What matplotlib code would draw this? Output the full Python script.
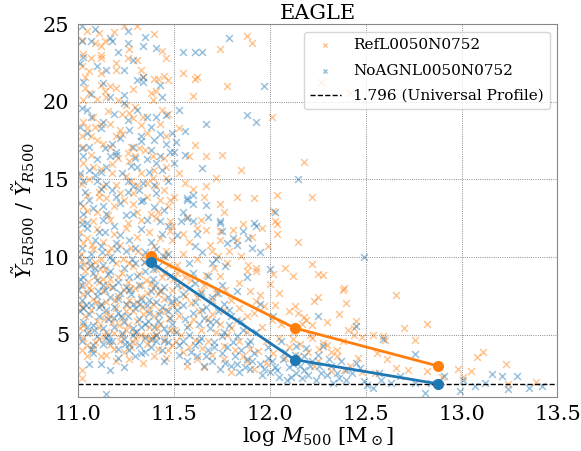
import numpy as np
import matplotlib
matplotlib.use("Agg")
import matplotlib.pyplot as plt

# points (log M500, Y5R500/YR500)
ref_pts = [
    # high ratio, low mass
    (11.05, 24.6), (11.11, 24.46), (11.19, 24.5), (11.24, 24.9), (11.31, 24.9), (11.02, 24.0), (11.09, 23.8),
    (11.12, 23.6), (11.14, 23.9), (11.03, 23.1), (11.07, 22.8), (11.12, 22.8), (11.20, 22.5), (11.26, 22.8),
    (11.31, 22.7), (11.02, 22.3), (11.06, 22.0), (11.12, 21.85), (11.20, 22.06), (11.33, 22.06), (11.34, 21.6),
    (11.40, 21.5), (11.42, 21.5), (11.45, 21.7), (11.47, 21.4), (11.04, 20.9), (11.06, 20.55), (11.12, 21.1),
    (11.17, 21.0), (11.20, 20.9), (11.29, 20.8), (11.41, 20.7), (11.03, 20.1), (11.10, 20.2), (11.15, 20.3),
    (11.21, 20.1), (11.39, 20.1), (11.25, 19.8), (11.30, 19.7), (11.27, 19.3), (11.23, 19.2), (11.29, 18.95),
    (11.34, 19.05), (11.44, 19.5), (11.47, 19.2), (11.03, 18.7), (11.05, 18.3), (11.09, 18.4), (11.12, 18.6),
    (11.17, 18.6), (11.02, 17.8), (11.07, 17.8), (11.10, 17.55), (11.13, 17.3), (11.20, 17.8), (11.23, 17.9),
    (11.28, 17.1), (11.32, 17.0), (11.36, 18.0), (11.03, 17.1), (11.17, 17.1), (11.26, 16.7), (11.30, 16.5),
    (11.39, 16.5), (11.45, 16.4), (11.03, 16.05), (11.08, 15.8), (11.12, 15.7), (11.18, 15.4), (11.25, 15.2),
    (11.33, 15.4), (11.40, 15.6), (11.46, 15.8), (11.01, 15.2), (11.06, 15.0), (11.13, 14.55), (11.20, 14.65),
    (11.31, 14.65), (11.36, 14.75), (11.41, 14.55), (11.46, 15.1), (11.05, 14.0), (11.11, 13.9), (11.15, 13.8),
    (11.22, 14.1), (11.29, 14.1), (11.36, 13.9), (11.43, 13.7), (11.48, 13.7), (11.03, 13.3), (11.10, 12.9),
    (11.19, 13.3), (11.29, 13.4), (11.38, 12.8), (11.47, 13.3), (11.02, 12.4), (11.08, 12.3), (11.17, 12.4),
    (11.26, 12.2), (11.33, 12.4), (11.41, 12.5), (11.48, 12.3),
    (11.04, 21.6), (11.08, 19.0), (11.14, 20.7), (11.22, 18.2), (11.18, 16.0), (11.27, 16.2), (11.35, 16.9),
    (11.43, 18.6), (11.07, 16.6), (11.11, 14.2), (11.24, 13.7), (11.31, 12.9), (11.39, 15.1), (11.45, 14.3),
    (11.02, 14.7), (11.16, 12.7), (11.28, 14.9), (11.42, 12.9), (11.49, 11.1), (11.05, 13.0), (11.21, 16.4),
    (11.33, 18.5), (11.12, 23.0), (11.27, 23.4), (11.40, 24.4), (11.16, 19.4), (11.38, 20.6), (11.46, 17.8),
    # 11.5 - 12.1, upper
    (11.88, 24.25), (11.91, 23.8), (11.74, 23.4), (11.44, 23.3), (11.46, 22.8), (11.55, 21.85), (11.62, 21.6),
    (11.61, 21.45), (11.78, 21.0), (11.60, 20.4), (12.01, 19.0), (11.53, 18.3), (11.61, 17.2), (11.58, 16.5),
    (11.67, 16.5), (11.75, 16.6), (11.85, 15.6), (11.72, 15.1), (11.56, 14.75), (11.67, 14.6), (11.60, 14.4),
    (11.66, 13.9), (11.74, 13.4), (11.83, 13.9), (11.92, 13.8), (12.04, 14.0), (12.02, 13.0), (12.03, 12.3),
    (12.27, 21.3), (12.42, 20.56), (12.18, 16.1), (12.22, 13.84),
    (11.53, 15.4), (11.58, 11.0), (11.64, 12.4), (11.69, 10.8), (11.79, 10.4), (11.86, 12.1), (11.96, 11.9),
    # dense cloud 11.0 - 11.5
    (11.01, 11.6), (11.03, 10.9), (11.05, 11.2), (11.08, 10.5), (11.10, 11.8), (11.13, 11.0), (11.16, 10.3),
    (11.19, 11.5), (11.22, 10.8), (11.25, 11.9), (11.28, 10.6), (11.31, 11.3), (11.34, 10.1), (11.37, 11.6),
    (11.40, 10.7), (11.43, 11.2), (11.46, 10.4), (11.48, 11.7),
    (11.02, 9.8), (11.04, 9.1), (11.07, 9.5), (11.09, 8.8), (11.12, 9.9), (11.14, 9.2), (11.17, 8.6),
    (11.20, 9.6), (11.23, 9.0), (11.26, 8.4), (11.29, 9.4), (11.32, 8.9), (11.35, 9.7), (11.38, 8.3),
    (11.41, 9.2), (11.44, 8.7), (11.47, 9.5),
    (11.01, 8.2), (11.03, 7.6), (11.06, 8.0), (11.08, 7.3), (11.11, 8.4), (11.13, 7.8), (11.15, 7.1),
    (11.18, 8.1), (11.21, 7.5), (11.24, 7.9), (11.27, 7.2), (11.30, 8.0), (11.33, 7.4), (11.36, 7.7),
    (11.39, 7.0), (11.42, 7.6), (11.45, 7.3), (11.49, 7.9),
    (11.02, 6.8), (11.04, 6.2), (11.07, 6.6), (11.10, 5.9), (11.12, 6.9), (11.15, 6.4), (11.18, 5.8),
    (11.20, 6.7), (11.23, 6.1), (11.26, 5.6), (11.29, 6.5), (11.31, 5.9), (11.34, 6.3), (11.37, 5.5),
    (11.40, 6.2), (11.43, 5.7), (11.46, 6.6), (11.48, 5.3),
    (11.01, 5.4), (11.03, 4.8), (11.06, 5.2), (11.09, 4.5), (11.11, 5.5), (11.14, 4.9), (11.17, 4.3),
    (11.19, 5.1), (11.22, 4.6), (11.25, 5.3), (11.28, 4.2), (11.30, 4.8), (11.33, 5.0), (11.36, 4.4),
    (11.39, 4.9), (11.42, 4.1), (11.45, 4.7), (11.49, 4.3),
    (11.02, 4.0), (11.05, 3.6), (11.08, 4.1), (11.12, 3.6), (11.15, 3.7), (11.20, 3.3), (11.24, 3.9),
    (11.27, 3.4), (11.34, 3.2), (11.40, 3.6), (11.46, 3.5), (11.02, 2.7), (11.02, 2.2),
    (11.015, 10.2), (11.035, 9.5), (11.055, 8.4), (11.075, 10.8), (11.095, 7.1), (11.115, 9.2), (11.135, 6.0),
    (11.155, 8.2), (11.175, 10.6), (11.195, 7.2), (11.215, 5.6), (11.235, 9.9), (11.255, 6.9), (11.275, 8.0),
    (11.295, 5.2), (11.315, 10.4), (11.335, 6.8), (11.355, 8.5), (11.375, 4.7), (11.395, 9.9), (11.415, 5.4),
    (11.435, 7.9), (11.455, 10.0), (11.475, 6.1), (11.495, 8.6),
    (11.01, 7.0), (11.03, 5.6), (11.05, 4.3), (11.07, 7.9), (11.09, 9.7), (11.11, 4.7), (11.13, 8.6),
    (11.15, 5.2), (11.17, 6.2), (11.19, 4.1), (11.21, 8.7), (11.23, 5.0), (11.25, 6.5), (11.27, 9.6),
    (11.29, 4.5), (11.31, 7.1), (11.33, 8.2), (11.35, 4.9), (11.37, 6.6), (11.39, 8.0), (11.41, 5.0),
    (11.43, 6.5), (11.45, 9.0), (11.47, 4.0), (11.49, 6.9),
    # 11.5 - 12.1, lower
    (11.52, 8.97), (11.59, 8.54), (11.67, 8.86), (11.74, 8.75), (11.88, 9.07), (11.93, 9.07), (12.00, 8.28),
    (11.95, 7.57), (11.93, 7.14), (11.97, 6.82), (12.01, 5.96), (11.88, 6.18), (11.83, 5.96), (11.56, 7.47),
    (11.59, 7.04), (11.53, 6.18), (11.50, 5.32), (11.51, 4.57), (11.61, 4.67), (11.65, 4.14), (11.76, 4.25),
    (11.84, 4.57), (11.80, 2.57), (11.94, 3.93), (11.98, 4.57),
    (11.55, 10.2), (11.62, 9.9), (11.70, 10.4), (11.78, 9.6), (11.85, 10.1), (11.52, 9.5), (11.64, 7.8),
    (11.70, 7.2), (11.76, 6.6), (11.68, 6.0), (11.58, 5.6), (11.72, 5.2), (11.80, 5.4), (11.55, 3.9),
    (11.62, 3.4), (11.70, 3.7), (11.88, 3.3), (11.92, 2.8), (11.57, 3.0), (11.66, 2.9), (11.77, 7.9),
    (11.84, 8.3), (11.90, 7.8), (11.63, 6.5), (11.54, 8.1),
    (11.55, 11.5), (11.62, 11.86), (11.67, 11.76), (11.74, 11.65), (11.74, 11.1), (11.81, 11.76), (11.83, 11.1),
    (11.91, 11.3), (11.99, 10.7), (11.73, 10.1), (11.89, 9.5), (11.93, 9.3), (11.71, 9.3), (11.49, 12.0),
    (11.50, 13.9), (11.76, 12.9), (11.57, 12.6),
    (11.52, 7.0), (11.54, 5.0), (11.56, 8.7), (11.58, 4.2), (11.60, 6.0), (11.62, 7.4), (11.64, 5.3),
    (11.66, 8.2), (11.68, 4.6), (11.70, 6.3), (11.72, 7.7), (11.74, 5.7), (11.76, 3.4), (11.78, 5.0),
    (11.80, 7.2), (11.82, 4.0), (11.84, 6.7), (11.86, 3.6), (11.88, 5.2), (11.90, 4.1), (11.92, 6.4),
    (11.96, 5.5), (11.98, 3.2), (12.02, 3.8),
    # high mass end
    (12.04, 12.1), (12.04, 11.5), (12.02, 8.9), (12.05, 7.7), (12.08, 9.3), (12.10, 6.5), (12.03, 6.9),
    (12.15, 10.94), (12.22, 9.55), (12.25, 8.9), (12.28, 8.86), (12.12, 8.75), (12.39, 8.0), (12.38, 7.85),
    (12.40, 7.07), (12.66, 7.55), (12.23, 7.16), (12.25, 7.4), (12.13, 6.86), (12.15, 6.4), (12.18, 6.13),
    (12.19, 5.96), (12.17, 5.7), (12.21, 5.0), (12.22, 4.78), (12.28, 4.46), (12.30, 4.3), (12.35, 4.03),
    (12.41, 5.3), (12.44, 4.99), (12.48, 4.84), (12.54, 5.0), (12.59, 4.93), (12.60, 4.68), (12.70, 5.43),
    (12.76, 4.68), (12.82, 5.7), (12.72, 2.7), (12.35, 3.6), (12.46, 3.5), (12.56, 3.8), (12.61, 3.4),
    (12.66, 2.85), (12.39, 2.74), (12.32, 2.64), (12.23, 2.96), (12.98, 2.78), (13.05, 2.63), (13.08, 3.55),
    (13.11, 3.85), (13.23, 3.13), (13.01, 2.3), (13.24, 1.85), (13.39, 1.93), (12.90, 2.3), (12.82, 2.64),
    (12.05, 4.8), (12.10, 4.2), (12.15, 3.6), (12.20, 3.9), (12.25, 3.3), (12.12, 5.2), (12.30, 5.8),
    (12.36, 6.3), (12.45, 5.9), (12.42, 3.0), (12.48, 2.6), (12.55, 2.5), (12.44, 5.4),
    (12.06, 5.7), (12.08, 3.5), (12.12, 4.7), (12.16, 4.4), (12.22, 5.6), (12.26, 4.1), (12.32, 3.9),
    (12.38, 4.6),
]

noagn_pts = [
    # high ratio, low mass
    (11.02, 24.9), (11.09, 24.7), (11.17, 24.1), (11.26, 24.6), (11.35, 24.2), (11.02, 23.9), (11.07, 23.9),
    (11.18, 23.9), (11.26, 23.8), (11.34, 23.6), (11.41, 23.5), (11.01, 22.5), (11.10, 22.3), (11.15, 22.06),
    (11.24, 22.06), (11.34, 21.6), (11.03, 21.3), (11.07, 20.5), (11.17, 20.3), (11.24, 20.45), (11.31, 21.4),
    (11.34, 21.3), (11.43, 21.1), (11.02, 19.6), (11.05, 19.5), (11.13, 18.7), (11.19, 19.2), (11.26, 18.85),
    (11.31, 19.5), (11.36, 19.05), (11.41, 19.05), (11.46, 19.15), (11.01, 18.4), (11.05, 18.0), (11.12, 18.3),
    (11.27, 18.2), (11.33, 17.8), (11.38, 18.4), (11.43, 17.9), (11.02, 17.0), (11.06, 17.1), (11.18, 17.3),
    (11.20, 16.8), (11.29, 17.1), (11.33, 17.45), (11.40, 17.55), (11.46, 17.3), (11.03, 16.5), (11.10, 16.3),
    (11.17, 16.5), (11.20, 16.6), (11.28, 15.9), (11.36, 16.3), (11.43, 16.5), (11.48, 16.8), (11.01, 15.4),
    (11.06, 15.6), (11.12, 15.5), (11.15, 15.8), (11.23, 15.4), (11.31, 15.8), (11.41, 16.05), (11.03, 14.9),
    (11.10, 14.9), (11.15, 14.7), (11.26, 14.9), (11.29, 14.55), (11.34, 14.75), (11.40, 14.65), (11.47, 14.9),
    (11.04, 14.2), (11.12, 14.4), (11.20, 13.9), (11.26, 14.2), (11.34, 13.7), (11.41, 14.1), (11.01, 13.5),
    (11.06, 13.7), (11.13, 13.3), (11.22, 13.5), (11.33, 13.6), (11.45, 13.05), (11.03, 12.8), (11.08, 13.15),
    (11.15, 12.8), (11.29, 12.8), (11.36, 12.4), (11.43, 12.3), (11.05, 12.2), (11.13, 12.4),
    (11.03, 22.9), (11.13, 21.2), (11.21, 23.2), (11.29, 22.7), (11.07, 19.0), (11.22, 17.7), (11.14, 17.0),
    (11.30, 16.4), (11.37, 15.5), (11.44, 15.6), (11.09, 15.3), (11.18, 14.3), (11.25, 12.7), (11.32, 14.3),
    (11.40, 13.2), (11.47, 12.0), (11.02, 12.1), (11.11, 11.6), (11.19, 12.0), (11.38, 16.9), (11.49, 18.0),
    (11.24, 19.9), (11.44, 20.3),
    # 11.5 - 12.2, upper
    (11.79, 24.1), (11.55, 23.2), (11.61, 23.2), (11.65, 23.2), (11.97, 21.0), (11.88, 19.16), (11.93, 18.73),
    (11.67, 18.56), (11.53, 19.48), (11.56, 18.1), (11.51, 17.4), (11.50, 16.8), (11.50, 16.05), (11.65, 15.77),
    (12.15, 15.04), (11.57, 13.8), (11.60, 13.4), (11.67, 13.35), (11.74, 12.35), (11.92, 12.2), (12.03, 12.9),
    (11.57, 13.7), (11.60, 14.0), (11.55, 12.9), (11.57, 12.5), (11.54, 12.3), (11.60, 12.3), (11.74, 12.2),
    (11.75, 11.65), (11.81, 11.2), (11.83, 10.8), (11.89, 11.2), (11.93, 12.0), (11.91, 10.6), (11.61, 10.7),
    (11.52, 11.4), (11.72, 9.9), (11.77, 9.4),
    (11.56, 16.6), (11.62, 11.5), (11.68, 12.6), (11.78, 10.9), (11.86, 11.7), (11.95, 10.3), (12.00, 9.2),
    # dense cloud 11.0 - 11.5
    (11.00, 11.3), (11.02, 10.6), (11.05, 11.9), (11.07, 10.2), (11.09, 11.1), (11.12, 10.7), (11.14, 11.6),
    (11.17, 10.0), (11.20, 10.9), (11.22, 11.4), (11.25, 10.4), (11.27, 11.1), (11.30, 10.6), (11.33, 11.8),
    (11.35, 10.3), (11.38, 11.0), (11.41, 10.5), (11.44, 11.5), (11.47, 10.2),
    (11.01, 9.4), (11.03, 8.7), (11.06, 9.8), (11.08, 9.0), (11.10, 8.5), (11.13, 9.5), (11.16, 8.9),
    (11.18, 9.8), (11.21, 8.4), (11.24, 9.3), (11.27, 8.7), (11.30, 9.6), (11.32, 8.2), (11.35, 9.1),
    (11.39, 8.6), (11.42, 9.4), (11.45, 8.1), (11.48, 8.8),
    (11.00, 7.9), (11.02, 7.2), (11.05, 7.7), (11.07, 6.9), (11.10, 7.5), (11.12, 7.0), (11.14, 7.9),
    (11.17, 7.4), (11.19, 6.8), (11.22, 7.7), (11.25, 7.0), (11.28, 7.6), (11.30, 6.7), (11.33, 7.3),
    (11.36, 6.9), (11.38, 7.8), (11.41, 7.1), (11.44, 6.8), (11.47, 7.4),
    (11.01, 6.5), (11.03, 5.8), (11.06, 6.3), (11.08, 5.6), (11.11, 6.2), (11.13, 5.4), (11.16, 6.0),
    (11.19, 5.5), (11.21, 6.4), (11.24, 5.8), (11.26, 6.2), (11.29, 5.4), (11.32, 6.0), (11.35, 5.7),
    (11.37, 6.4), (11.40, 5.5), (11.42, 5.9), (11.45, 5.4), (11.48, 6.1),
    (11.00, 5.0), (11.02, 4.6), (11.05, 5.1), (11.08, 4.3), (11.10, 4.9), (11.13, 4.4), (11.16, 5.0),
    (11.18, 4.6), (11.21, 4.1), (11.24, 4.7), (11.27, 4.4), (11.29, 5.0), (11.32, 4.3), (11.35, 4.8),
    (11.38, 4.2), (11.41, 4.6), (11.44, 4.0), (11.47, 4.5),
    (11.06, 3.1), (11.12, 3.1), (11.17, 2.7), (11.24, 2.9), (11.30, 3.6), (11.45, 3.3), (11.08, 3.8),
    (11.21, 3.5), (11.33, 3.8), (11.15, 1.2),
    (11.005, 10.0), (11.025, 8.2), (11.045, 6.9), (11.065, 9.4), (11.085, 5.3), (11.105, 7.8), (11.125, 10.3),
    (11.145, 6.6), (11.165, 4.6), (11.185, 8.1), (11.205, 10.5), (11.225, 6.2), (11.245, 4.4), (11.265, 7.9),
    (11.285, 9.9), (11.305, 5.2), (11.325, 7.0), (11.345, 9.7), (11.365, 5.9), (11.385, 4.7), (11.405, 8.2),
    (11.425, 6.3), (11.445, 10.1), (11.465, 5.1), (11.485, 7.1),
    (11.01, 8.6), (11.03, 6.7), (11.05, 5.5), (11.07, 4.1), (11.09, 9.3), (11.11, 6.8), (11.13, 8.2),
    (11.15, 4.8), (11.17, 9.1), (11.19, 6.1), (11.21, 7.3), (11.23, 5.1), (11.25, 8.1), (11.27, 4.0),
    (11.29, 7.0), (11.31, 8.8), (11.33, 5.5), (11.35, 3.9), (11.37, 7.2), (11.39, 9.2), (11.41, 5.0),
    (11.43, 7.8), (11.45, 4.6), (11.47, 6.5), (11.49, 5.7),
    # 11.5 - 12.1, lower
    (11.52, 8.2), (11.55, 7.6), (11.58, 8.0), (11.61, 7.1), (11.64, 7.7), (11.67, 6.8), (11.70, 7.4),
    (11.73, 6.5), (11.76, 7.0), (11.80, 6.2), (11.52, 6.6), (11.56, 6.0), (11.60, 6.4), (11.63, 5.7),
    (11.66, 6.1), (11.69, 5.4), (11.72, 5.9), (11.76, 5.2), (11.79, 5.6), (11.83, 4.9), (11.86, 5.3),
    (11.90, 4.6), (11.51, 5.2), (11.55, 4.6), (11.58, 5.0), (11.61, 4.3), (11.64, 4.8), (11.68, 4.0),
    (11.71, 4.5), (11.75, 3.8), (11.78, 4.2), (11.82, 3.6), (11.85, 4.0), (11.88, 3.4), (11.92, 3.8),
    (11.95, 3.1), (11.99, 3.5), (12.03, 2.9), (11.53, 3.7), (11.57, 3.3), (11.62, 3.6), (11.66, 3.0),
    (11.70, 3.3), (11.74, 2.8), (11.80, 3.0), (11.84, 2.6), (11.90, 2.8), (11.96, 2.4), (12.00, 2.6),
    (12.05, 2.3), (11.60, 9.0), (11.68, 8.8), (11.75, 8.2), (11.83, 7.8), (11.70, 9.6), (11.88, 8.7),
    (11.65, 10.3), (11.58, 9.6), (11.95, 7.0), (12.02, 6.2),
    (11.51, 7.3), (11.53, 4.3), (11.55, 6.9), (11.57, 5.5), (11.59, 3.9), (11.61, 8.3), (11.63, 4.6),
    (11.65, 6.6), (11.67, 3.6), (11.69, 5.8), (11.71, 4.2), (11.73, 7.7), (11.75, 4.9), (11.77, 3.2),
    (11.79, 6.6), (11.81, 4.5), (11.83, 3.1), (11.85, 5.9), (11.87, 2.9), (11.89, 4.4), (11.91, 3.3),
    (11.93, 5.2), (11.97, 2.8), (11.99, 4.2), (12.01, 3.3), (12.04, 2.7),
    # high mass end
    (12.49, 10.0), (12.25, 6.22), (12.45, 5.53), (12.76, 3.75), (12.59, 4.74), (12.14, 4.25), (12.19, 4.13),
    (12.18, 3.6), (12.22, 3.28), (12.26, 2.96), (12.30, 2.42), (12.33, 1.88), (12.35, 2.53), (12.28, 4.25),
    (12.37, 3.28), (12.47, 2.85), (12.51, 1.78), (12.54, 1.56), (12.58, 2.1), (12.63, 1.88), (12.68, 2.31),
    (12.76, 1.88), (12.81, 1.24), (12.84, 1.88), (12.91, 2.31), (12.99, 1.35), (13.07, 1.67), (13.12, 1.88),
    (13.16, 2.49), (13.21, 2.31), (13.24, 1.5), (13.29, 2.31), (13.35, 1.56), (13.42, 1.71), (12.16, 2.96),
    (12.20, 2.42), (12.24, 2.1), (12.11, 2.3), (12.40, 2.1), (12.57, 2.53), (13.01, 2.1),
    (12.08, 3.9), (12.12, 3.1), (12.06, 4.6), (12.18, 2.7), (12.25, 3.7), (12.32, 3.0), (12.40, 2.7),
    (12.45, 3.2), (12.10, 2.9), (12.14, 2.5),
    (12.07, 3.4), (12.09, 2.1), (12.13, 3.7), (12.17, 2.2), (12.21, 3.0), (12.27, 2.5), (12.31, 3.4),
    (12.36, 2.2), (12.43, 2.5), (12.49, 2.0),
]

# binned medians
med_mass = [11.38, 12.13, 12.88]
ref_med = [10.08, 5.43, 2.97]
noagn_med = [9.67, 3.39, 1.82]
universal = 1.796

ref_x, ref_y = np.array(ref_pts).T
noagn_x, noagn_y = np.array(noagn_pts).T

plt.rcParams['font.family'] = ['DejaVu Serif']
plt.rcParams['mathtext.fontset'] = 'dejavuserif'

fig = plt.figure(figsize=(5.81, 4.51), dpi=100)
ax = fig.add_axes([0.1337, 0.1204, 0.8258, 0.8257])

ax.scatter(ref_x, ref_y, marker='x', s=24, lw=1.1, color='#ff7f0e', alpha=0.45, label='RefL0050N0752')
ax.scatter(noagn_x, noagn_y, marker='x', s=24, lw=1.1, color='#1f77b4', alpha=0.45, label='NoAGNL0050N0752')
ax.axhline(universal, color='k', ls='--', lw=1, label='%.3f (Universal Profile)' % universal)
ax.plot(med_mass, ref_med, '-o', color='#ff7f0e', lw=2, ms=7, zorder=5)
ax.plot(med_mass, noagn_med, '-o', color='#1f77b4', lw=2, ms=7, zorder=5)

ax.set_xlim(11.0, 13.5)
ax.set_ylim(1.0, 25)
ax.set_xticks([11.0, 11.5, 12.0, 12.5, 13.0, 13.5])
ax.set_yticks([5, 10, 15, 20, 25])
ax.tick_params(length=0, pad=6, labelsize=15)
ax.grid(True, ls=':', color='k', lw=0.6, alpha=0.6)
for sp in ax.spines.values():
    sp.set_color('#888888')

ax.set_title('EAGLE', fontsize=15, pad=4)
ax.set_xlabel(r'log $M_{500}$ [M$_\odot$]', fontsize=15, labelpad=1)
ax.set_ylabel(r'$\tilde{Y}_{5R500}$ / $\tilde{Y}_{R500}$', fontsize=15)
ax.legend(loc='upper right', fontsize=11, markerscale=0.6, labelspacing=0.75)

fig.savefig('out.png', dpi=100)
